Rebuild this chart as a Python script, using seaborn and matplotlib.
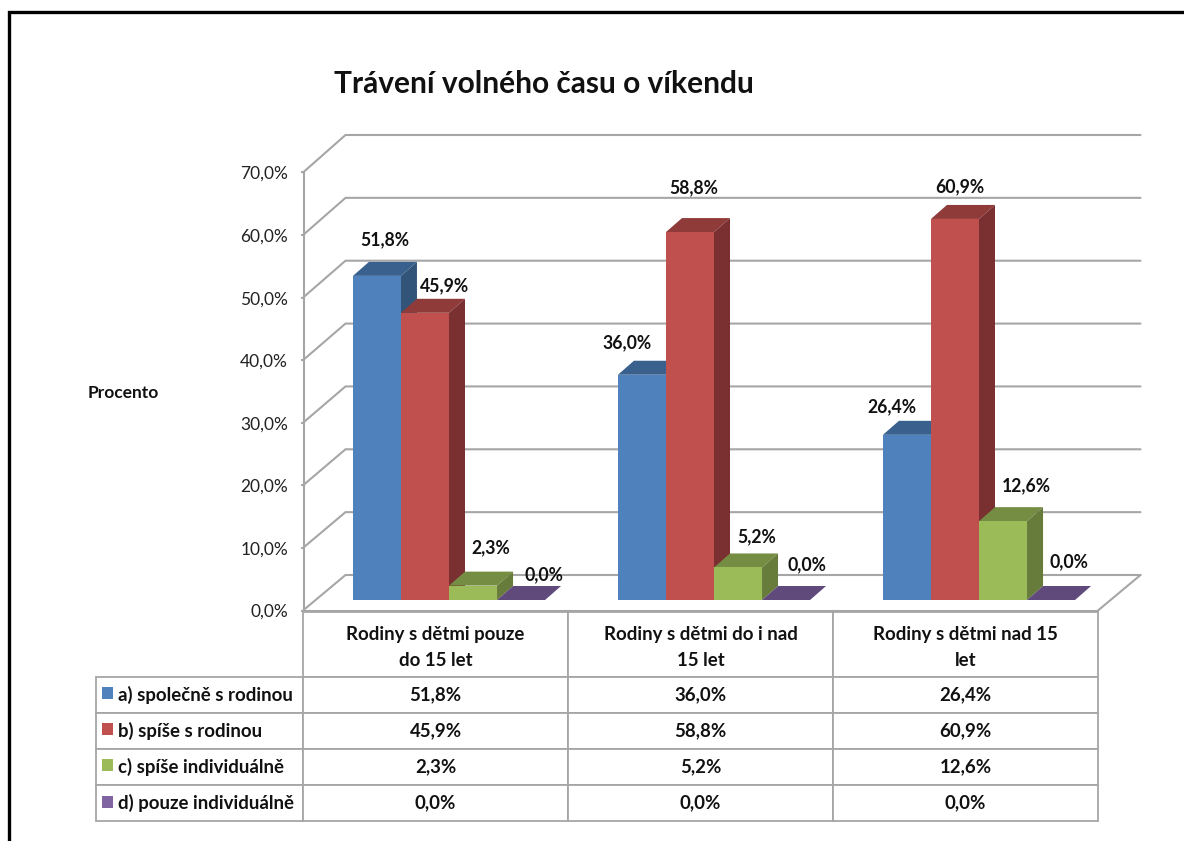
import pandas as pd
import matplotlib
matplotlib.use("Agg")
import matplotlib.pyplot as plt
import seaborn as sns
from matplotlib.patches import Polygon, Rectangle
from matplotlib.table import Table

W, H = 1184, 841

title = "Trávení volného času o víkendu"
y_title = "Procento"
groups = ["Rodiny s dětmi pouze\ndo 15 let", "Rodiny s dětmi do i nad\n15 let", "Rodiny s dětmi nad 15\nlet"]
answers = ["a) společně s rodinou", "b) spíše s rodinou", "c) spíše individuálně", "d) pouze individuálně"]
spolecne = [51.8, 36.0, 26.4]
spise_rodina = [45.9, 58.8, 60.9]
spise_indiv = [2.3, 5.2, 12.6]
pouze_indiv = [0.0, 0.0, 0.0]
y_ticks = [0, 10, 20, 30, 40, 50, 60, 70]

front_cols = ["#4F81BD", "#C0504D", "#9BBB59", "#8064A2"]
top_cols = ["#3A608D", "#8F3B39", "#748D43", "#604A7B"]
side_cols = ["#335479", "#7A3030", "#677C3A", "#54406C"]
grid_col = "#A6A6A6"

# label shifts in pixels from the middle of each bar top, per answer then group
label_shift = [[(8, 36), (-15, 32), (-15, 28)],
               [(20, 27), (4, 44), (5, 32)],
               [(18, 38), (19, 31), (23, 35)],
               [(23, 25), (21, 35), (18, 38)]]

sns.set_theme(style="white")
plt.rcParams["font.family"] = ["Lato", "DejaVu Sans"]


def fmt(v):
    return "{:.1f}%".format(v).replace(".", ",")


def box(x0, y0, x1, y1):
    # pixel box (y down) to figure fractions
    return [x0 / W, 1 - y1 / H, (x1 - x0) / W, (y1 - y0) / H]


series = [spolecne, spise_rodina, spise_indiv, pouze_indiv]
rows = []
for a, vals in zip(answers, series):
    for g, v in zip(groups, vals):
        rows.append({"skupina": g, "odpoved": a, "procento": v})
df = pd.DataFrame(rows)

fig = plt.figure(figsize=(W / 100, H / 100), dpi=100, facecolor="white")

# front plane of the box: value axis and floor edge
ax_y = fig.add_axes(box(304, 172.5, 1098, 610.5))
ax_y.set_facecolor("none")
ax_y.set_ylim(0, 70)
ax_y.set_xlim(0, 1)
ax_y.set_xticks([])
ax_y.set_yticks(y_ticks)
ax_y.set_yticklabels([fmt(t) for t in y_ticks], fontsize=12.5, color="#222222")
ax_y.tick_params(axis="y", left=True, length=2.5, width=1.4, color=grid_col, pad=9)
for s in ["top", "right"]:
    ax_y.spines[s].set_visible(False)
for s in ["left", "bottom"]:
    ax_y.spines[s].set_color(grid_col)
    ax_y.spines[s].set_linewidth(1.5)

# bars live on a plane a bit behind the front one
ax = fig.add_axes(box(316.5, 162, 1111.5, 600))
ax.set_facecolor("none")
sns.barplot(data=df, x="skupina", y="procento", hue="odpoved", palette=front_cols,
            order=groups, hue_order=answers, width=0.725, gap=0, saturation=1,
            legend=False, ax=ax)
ax.set_xlim(-0.5, 2.5)
ax.set_ylim(0, 70)
ax.axis("off")

px_x = 3 / 795.0
px_y = 70 / 438.0
bar_dx, bar_dy = 16 * px_x, 14 * px_y
front_dx, front_dy = -13.5 * px_x, -10.5 * px_y
back_dx, back_dy = 29 * px_x, 25 * px_y
back_scale = 440 / 438.0

# back wall and side wall lines
for t in y_ticks:
    ax.plot([-0.5 + front_dx, -0.5 + back_dx, 2.5 + back_dx],
            [t + front_dy, t * back_scale + back_dy, t * back_scale + back_dy],
            color=grid_col, lw=1.5, clip_on=False, zorder=1, solid_joinstyle="miter")
ax.plot([2.5 + front_dx, 2.5 + back_dx], [front_dy, back_dy], color=grid_col, lw=1.5, clip_on=False, zorder=1)

# extrude the seaborn bars
n_groups = len(groups)
for i, bar in enumerate(ax.patches[:len(df)]):
    k = i // n_groups
    j = i % n_groups
    x0, w, h = bar.get_x(), bar.get_width(), bar.get_height()
    z = 3 + x0 + 1
    bar.set_zorder(z + 0.02)
    bar.set_edgecolor("none")
    ax.add_patch(Polygon([(x0, h), (x0 + w, h), (x0 + w + bar_dx, h + bar_dy), (x0 + bar_dx, h + bar_dy)],
                         closed=True, fc=top_cols[k], ec="none", zorder=z, clip_on=False))
    if h > 0:
        ax.add_patch(Polygon([(x0 + w, 0), (x0 + w + bar_dx, bar_dy), (x0 + w + bar_dx, h + bar_dy), (x0 + w, h)],
                             closed=True, fc=side_cols[k], ec="none", zorder=z + 0.01, clip_on=False))
    ax.annotate(fmt(h), xy=(x0 + w / 2, h), xytext=label_shift[k][j], textcoords="offset pixels",
                ha="center", va="center", fontsize=12.7, fontweight="bold", color="#111111",
                zorder=20, annotation_clip=False)

# overlay in image pixels: frame, texts, data table
over = fig.add_axes([0, 0, 1, 1])
over.set_xlim(0, W)
over.set_ylim(H, 0)
over.axis("off")
over.patch.set_visible(False)
over.plot([9, 9, W], [H, 12, 12], color="black", lw=2.4, solid_joinstyle="miter")
over.text(334, 84, title, fontsize=21.5, fontweight="bold", color="#111111", ha="left", va="center")
over.text(88, 393, y_title, fontsize=12.5, fontweight="bold", color="#111111", ha="left", va="center")

col_w = [207, 265, 265, 265]
head_h, row_h = 65, 36
tab = Table(over, bbox=[96 / W, 1 - 821 / H, sum(col_w) / W, (head_h + 4 * row_h) / H])
tab.auto_set_font_size(False)
for c, wd in enumerate(col_w):
    cell = tab.add_cell(0, c, wd / sum(col_w), head_h / (head_h + 4 * row_h), text="", loc="center",
                        edgecolor=grid_col)
    cell.set_linewidth(1.3)
    if c == 0:
        cell.visible_edges = ""
    else:
        over.text(96 + col_w[0] + (c - 0.5) * wd, 647.5, groups[c - 1], fontsize=13.4, fontweight="bold",
                  color="#111111", ha="center", va="center", linespacing=1.65, zorder=10)
for r, (a, vals) in enumerate(zip(answers, series), start=1):
    for c, wd in enumerate(col_w):
        text = a if c == 0 else fmt(vals[c - 1])
        cell = tab.add_cell(r, c, wd / sum(col_w), row_h / (head_h + 4 * row_h), text=text,
                            loc="left" if c == 0 else "center", edgecolor=grid_col)
        cell.set_linewidth(1.3)
        cell.set_fontsize(13.4)
        cell.get_text().set_fontweight("bold")
        cell.get_text().set_color("#111111")
        if c == 0:
            cell.PAD = 0.105
over.add_table(tab)

for r, col in enumerate(front_cols):
    over.add_patch(Rectangle((102, 687 + r * 36.2), 11, 12, fc=col, ec="none", zorder=10))

fig.savefig("out.png", dpi=100)
